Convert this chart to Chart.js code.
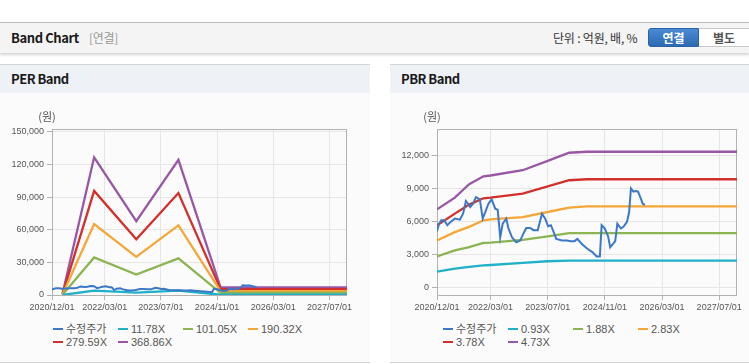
<!DOCTYPE html>
<html>
<head>
<meta charset="utf-8">
<script src="https://cdn.jsdelivr.net/npm/chart.js@4.4.1/dist/chart.umd.min.js"></script>
<style>
  body { margin: 0; width: 749px; height: 364px; overflow: hidden; background: #fff; font-family: 'Noto Sans CJK KR', sans-serif; position: relative; }
  .topbar { position: absolute; left: 0; top: 22px; width: 749px; height: 30px; border-top: 1px solid #bdbdbd; background: #f4f4f4; box-shadow: 0 2px 3px rgba(0,0,0,0.18); }
  .topbar .title { position: absolute; left: 11px; top: 5px; font-size: 13px; font-weight: bold; color: #1a1a1a; letter-spacing: -0.4px; }
  .topbar .sub { position: absolute; left: 89px; top: 6px; font-size: 12px; color: #999; letter-spacing: -0.3px; }
  .topbar .unit { position: absolute; left: 553px; top: 6px; font-size: 12px; color: #333; letter-spacing: -0.2px; }
  .btn { position: absolute; top: 5px; height: 17px; line-height: 17px; font-size: 12px; font-weight: bold; text-align: center; }
  .btn.on { left: 648px; width: 49px; background: linear-gradient(#4a8ad4, #2d6ab2); border: 1px solid #2a62a8; border-radius: 3px 0 0 3px; color: #fff; }
  .btn.off { left: 699px; width: 50px; background: #fff; border: 1px solid #c8c8c8; border-left: none; color: #555; }
  .panel { position: absolute; top: 64px; height: 297px; border-top: 1px solid #d2d2d2; border-bottom: 1px solid #d2d2d2; background: #fbfbfb; }
  .panel .head { height: 28px; background: #eef2f7; font-size: 13px; font-weight: bold; color: #1a1a1a; padding-left: 11px; line-height: 28px; letter-spacing: -0.5px; }
  canvas { position: absolute; top: 93px; }
  .legend { position: absolute; top: 323px; display: grid; grid-template-columns: repeat(4, 65px); font-family: 'Liberation Sans', 'Noto Sans CJK KR', sans-serif; font-size: 11px; color: #555; line-height: 13px; }
  .legend .item { white-space: nowrap; }
  .legend .sym { display: inline-block; width: 10px; height: 2px; vertical-align: middle; margin-right: 3px; margin-top: -2px; }
</style>
</head>
<body>
<div class="topbar">
  <div class="title">Band Chart</div>
  <div class="sub">[연결]</div>
  <div class="unit">단위 : 억원, 배, %</div>
  <div class="btn on">연결</div>
  <div class="btn off">별도</div>
</div>
<div class="panel" style="left:0;width:370px;"><div class="head">PER Band</div></div>
<div class="panel" style="left:390px;width:359px;"><div class="head">PBR Band</div></div>
<canvas id="perChart" width="370" height="230" style="left:0;"></canvas>
<canvas id="pbrChart" width="359" height="230" style="left:390px;"></canvas>
<div class="legend" id="perLegend" style="left:53px;"></div>
<div class="legend" id="pbrLegend" style="left:443px;"></div>
<script>
// x axis: months counted from 2020/12
const xTickLabels = ['2020/12/01', '2022/03/01', '2023/07/01', '2024/11/01', '2026/03/01', '2027/07/01'];
const xMaxMonth = 84;

const perYTicks = [0, 30000, 60000, 90000, 120000, 150000];
const pbrYTicks = [0, 3000, 6000, 9000, 12000];

const seriesColors = ['#3b78c8', '#1fb1c7', '#8cb452', '#f4a636', '#d3302b', '#9857a5'];

// 수정주가
const priceMonths = [0, 0.6, 1.2, 2.0, 2.9, 3.8, 5.0, 6.4, 7.3, 8.1, 8.7, 9.3, 10.1, 10.9, 12.0, 12.8, 13.7, 14.4, 15.3, 16.3,
  17.0, 17.7, 18.4, 19.4, 20.0, 21.0, 22.2, 23.3, 24.2, 25.0, 26.1, 27.0, 28.2, 29.4, 30.3, 31.1, 31.9, 32.7, 33.4, 35.0,
  36.4, 37.4, 38.5, 39.3, 40.7, 42.1, 43.5, 44.7, 45.6, 46.1, 47.0, 47.9, 48.5, 49.3, 49.9, 50.5, 51.5, 52.2, 53.2, 53.8,
  54.3, 55.0, 55.6, 56.3, 57.1, 57.6, 58.2];
const priceValues = [5100, 5800, 6100, 6100, 5650, 5950, 6250, 6150, 6700, 7850, 7600, 7300, 7600, 8200, 8000, 6250, 7000, 7600, 8000, 7150,
  7050, 4550, 5800, 6250, 5350, 4550, 4100, 4250, 4900, 5400, 5400, 5200, 5200, 6700, 6250, 5550, 5650, 5000, 4400, 4250,
  4250, 4200, 4200, 4400, 3900, 3500, 3200, 2800, 2800, 5650, 5350, 4650, 3650, 3950, 4200, 5800, 5350, 5500, 5950, 6850,
  9000, 8700, 8750, 8700, 8050, 7600, 7500];

// PER band
const perLabels = ['수정주가', '11.78X', '101.05X', '190.32X', '279.59X', '368.86X'];
const perBandMonths = [3, 12, 24, 36, 48, 84];
const per1 = [35, 4050, 2150, 3950, 224, 224];
const per2 = [300, 34500, 18800, 33700, 1920, 1920];
const per3 = [570, 65100, 35000, 64000, 3620, 3620];
const per4 = [840, 95600, 51200, 93700, 5310, 5310];
const per5 = [1100, 126500, 67800, 124100, 7010, 7010];

// PBR band
const pbrLabels = ['수정주가', '0.93X', '1.88X', '2.83X', '3.78X', '4.73X'];
const pbrBandMonths = [0, 5, 9, 13, 15, 24, 31, 37, 42, 84];
const pbr1 = [1430, 1700, 1850, 2000, 2030, 2220, 2370, 2435, 2435, 2435];
const pbr2 = [2800, 3350, 3650, 4050, 4060, 4320, 4630, 4930, 4930, 4930];
const pbr3 = [4260, 5020, 5500, 6100, 6180, 6390, 6850, 7245, 7370, 7370];
const pbr4 = [5630, 6700, 7520, 8100, 8160, 8520, 9190, 9740, 9830, 9830];
const pbr5 = [7090, 8160, 9375, 10100, 10170, 10650, 11500, 12240, 12330, 12330];

function monthOf(label) {
  const [y, m] = label.split('/').map(Number);
  return (y - 2020) * 12 + (m - 12);
}
const xTickMonths = xTickLabels.map(monthOf);

function pts(xs, ys) { return ys.map((v, i) => ({ x: xs[i], y: v })); }

const tickFont = { family: "'Liberation Sans', Arial, sans-serif", size: 9 };

const framePlugin = {
  id: 'frame',
  beforeDatasetsDraw(chart) {
    const { ctx, chartArea: a } = chart;
    ctx.save();
    ctx.strokeStyle = '#b2b2b2';
    ctx.lineWidth = 1;
    ctx.strokeRect(Math.round(a.left) + 0.5, Math.round(a.top) + 0.5, Math.round(a.width) - 1, Math.round(a.height));
    ctx.restore();
  },
  afterDraw(chart) {
    const { ctx, chartArea: a } = chart;
    ctx.save();
    ctx.font = "11px 'Noto Sans CJK KR', sans-serif";
    ctx.fillStyle = '#555';
    ctx.textAlign = 'center';
    ctx.textBaseline = 'middle';
    ctx.fillText('(원)', a.left - 5, a.top - 12);
    ctx.restore();
  }
};

function makeChart(id, labels, bandMonths, bands, yMin, yMax, yTicks, yWidth, padRight) {
  const datasets = [{ label: labels[0], data: pts(priceMonths, priceValues) }];
  bands.forEach((b, i) => datasets.push({ label: labels[i + 1], data: pts(bandMonths, b) }));
  datasets.forEach((d, i) => {
    d.borderColor = seriesColors[i];
    d.backgroundColor = seriesColors[i];
    d.borderWidth = i === 0 ? 2 : 2.3;
    d.pointRadius = 0;
    d.tension = 0;
    d.fill = false;
  });
  return new Chart(document.getElementById(id), {
    type: 'line',
    data: { datasets },
    options: {
      responsive: false,
      animation: false,
      layout: { padding: { top: 36, right: padRight, left: 0, bottom: 0 } },
      plugins: { legend: { display: false }, tooltip: { enabled: false } },
      scales: {
        x: {
          type: 'linear',
          min: 0,
          max: xMaxMonth,
          afterBuildTicks: s => { s.ticks = xTickMonths.map(v => ({ value: v })); },
          afterFit: s => { s.height = 28; },
          grid: { color: '#e6e6e6', tickColor: '#b2b2b2', tickLength: 5 },
          border: { display: false },
          ticks: {
            autoSkip: false, maxRotation: 0, padding: 2, color: '#555', font: tickFont,
            callback: v => xTickLabels[xTickMonths.indexOf(v)] || ''
          }
        },
        y: {
          min: yMin,
          max: yMax,
          afterBuildTicks: s => { s.ticks = yTicks.map(v => ({ value: v })); },
          afterFit: s => { s.width = yWidth; },
          grid: { color: '#e6e6e6', tickColor: '#b2b2b2', tickLength: 5 },
          border: { display: false },
          ticks: { padding: 3, color: '#555', font: tickFont, callback: v => v.toLocaleString('en-US') }
        }
      }
    },
    plugins: [framePlugin]
  });
}

function makeLegend(id, labels) {
  const el = document.getElementById(id);
  labels.forEach((t, i) => {
    const item = document.createElement('div');
    item.className = 'item';
    item.innerHTML = '<span class="sym" style="background:' + seriesColors[i] + '"></span>' + t;
    el.appendChild(item);
  });
}

makeChart('perChart', perLabels, perBandMonths, [per1, per2, per3, per4, per5], 0, 152500, perYTicks, 52, 23);
makeChart('pbrChart', pbrLabels, pbrBandMonths, [pbr1, pbr2, pbr3, pbr4, pbr5], -700, 14400, pbrYTicks, 47, 12);
makeLegend('perLegend', perLabels);
makeLegend('pbrLegend', pbrLabels);
</script>
</body>
</html>
